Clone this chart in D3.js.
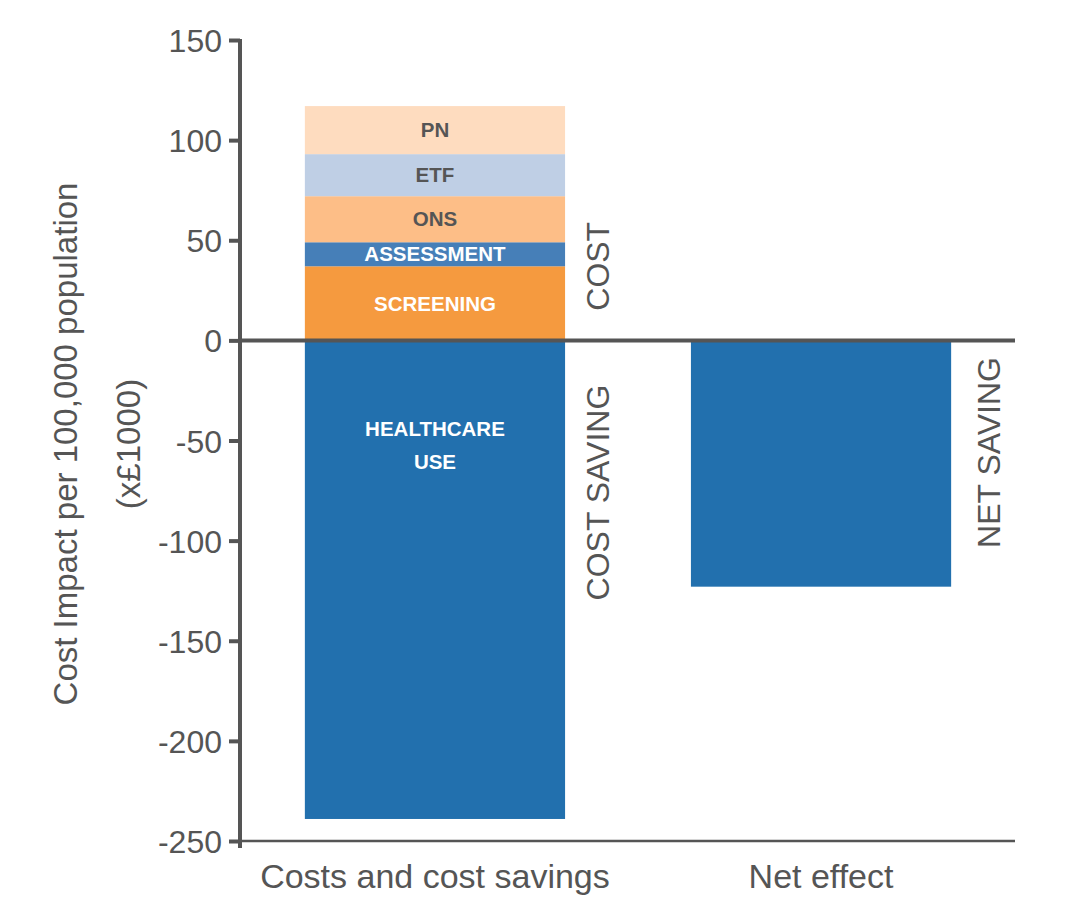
<!DOCTYPE html>
<html>
<head>
<meta charset="utf-8">
<script src="https://cdn.jsdelivr.net/npm/d3@7"></script>
<style>
  body { margin: 0; background: #fff; }
  text { font-family: "Liberation Sans", Arial, Helvetica, sans-serif; fill: #555; }
</style>
</head>
<body>
<svg id="chart" width="1067" height="924"></svg>
<script>
// data
const categories = ['Costs and cost savings', 'Net effect']
const costParts = ['SCREENING', 'ASSESSMENT', 'ONS', 'ETF', 'PN']
const costValues = [37, 12, 23, 21, 24]
const savingParts = ['HEALTHCARE USE']
const savingValues = [-239]
const netValues = [-123]
const yTicks = [150, 100, 50, 0, -50, -100, -150, -200, -250]

const partColors = {
  'SCREENING': '#f59a3f',
  'ASSESSMENT': '#467fb8',
  'ONS': '#fdbe87',
  'ETF': '#bfcfe5',
  'PN': '#fedcbf',
  'HEALTHCARE USE': '#2270ae',
  'NET': '#2270ae'
}
const darkParts = ['SCREENING', 'ASSESSMENT', 'HEALTHCARE USE']

const svg = d3.select('#chart')
const left = 240, right = 1016

const y = d3.scaleLinear()
  .domain([-250, 150])
  .range([841, 40])

const x = d3.scaleBand()
  .domain(categories)
  .range([left, right])
  .paddingInner(0.326)
  .paddingOuter(0.168)

// build stacked segments for the first bar
let acc = 0
const segments = costParts.map((name, i) => {
  const s = {name, y0: acc, y1: acc + costValues[i], cat: categories[0]}
  acc += costValues[i]
  return s
})
acc = 0
savingParts.forEach((name, i) => {
  segments.push({name, y0: acc, y1: acc + savingValues[i], cat: categories[0]})
  acc += savingValues[i]
})
netValues.forEach(v => segments.push({name: 'NET', y0: 0, y1: v, cat: categories[1]}))

const bars = svg.append('g')
bars.selectAll('rect')
  .data(segments)
  .enter()
  .append('rect')
  .attr('x', d => x(d.cat))
  .attr('width', x.bandwidth())
  .attr('y', d => y(Math.max(d.y0, d.y1)))
  .attr('height', d => Math.abs(y(d.y0) - y(d.y1)))
  .attr('fill', d => partColors[d.name])

// segment labels
const labelled = segments.filter(d => d.name !== 'NET')
labelled.forEach(d => {
  const cx = x(d.cat) + x.bandwidth() / 2
  const lines = d.name === 'HEALTHCARE USE' ? ['HEALTHCARE', 'USE'] : [d.name]
  let cy = d.name === 'HEALTHCARE USE' ? y(-48) : y((d.y0 + d.y1) / 2)
  const t = svg.append('text')
    .attr('x', cx)
    .attr('y', cy)
    .attr('text-anchor', 'middle')
    .style('font-size', '20.5px')
    .style('font-weight', 'bold')
    .style('fill', darkParts.includes(d.name) ? '#fff' : '#555')
  lines.forEach((l, i) => {
    t.append('tspan')
      .attr('x', cx)
      .attr('dy', i === 0 ? (d.name === 'HEALTHCARE USE' ? '0' : '0.35em') : '1.6em')
      .text(l)
  })
})

// y axis
const yAxis = svg.append('g')
  .attr('transform', 'translate(' + left + ',0)')
  .call(d3.axisLeft(y).tickValues(yTicks).tickFormat(d => String(d)).tickSize(11).tickPadding(7).tickSizeOuter(0))
yAxis.select('.domain').remove()
yAxis.selectAll('.tick line').attr('stroke', '#555').attr('stroke-width', 4)
yAxis.selectAll('.tick text')
  .style('font-size', '32px')
  .style('font-family', '"Liberation Sans", Arial, sans-serif')
  .attr('fill', '#555')
  .attr('dy', '0.36em')
yAxis.append('line')
  .attr('x1', 0).attr('x2', 0)
  .attr('y1', y(150) - 1).attr('y2', y(-250) + 7)
  .attr('stroke', '#555').attr('stroke-width', 4)

// bottom baseline and zero line
svg.append('line')
  .attr('x1', left).attr('x2', right - 1)
  .attr('y1', y(-250)).attr('y2', y(-250))
  .attr('stroke', '#555').attr('stroke-width', 2.5)
svg.append('line')
  .attr('x1', left).attr('x2', right - 1)
  .attr('y1', y(0)).attr('y2', y(0))
  .attr('stroke', '#555').attr('stroke-width', 4)

// category labels
svg.selectAll('.cat')
  .data(categories)
  .enter()
  .append('text')
  .attr('class', 'cat')
  .attr('x', d => x(d) + x.bandwidth() / 2)
  .attr('y', 888)
  .attr('text-anchor', 'middle')
  .style('font-size', '34px')
  .text(d => d)

// rotated side labels
function sideLabel(txt, px, py){
  svg.append('text')
    .attr('transform', 'translate(' + px + ',' + py + ')rotate(-90)')
    .attr('text-anchor', 'middle')
    .attr('dy', '0.36em')
    .style('font-size', '32px')
    .text(txt)
}
const edge1 = x(categories[0]) + x.bandwidth()
const edge2 = x(categories[1]) + x.bandwidth()
sideLabel('COST', edge1 + 32, y(37))
sideLabel('COST SAVING', edge1 + 32, y(-76))
sideLabel('NET SAVING', edge2 + 37, y(-56))

// y axis title
const title = svg.append('text')
  .attr('transform', 'translate(65,444)rotate(-90)')
  .attr('text-anchor', 'middle')
  .style('font-size', '33px')
title.append('tspan').attr('x', 0).attr('dy', '0.36em').text('Cost Impact per 100,000 population')
title.append('tspan').attr('x', 0).attr('dy', '1.9em').text('(x£1000)')
</script>
</body>
</html>
